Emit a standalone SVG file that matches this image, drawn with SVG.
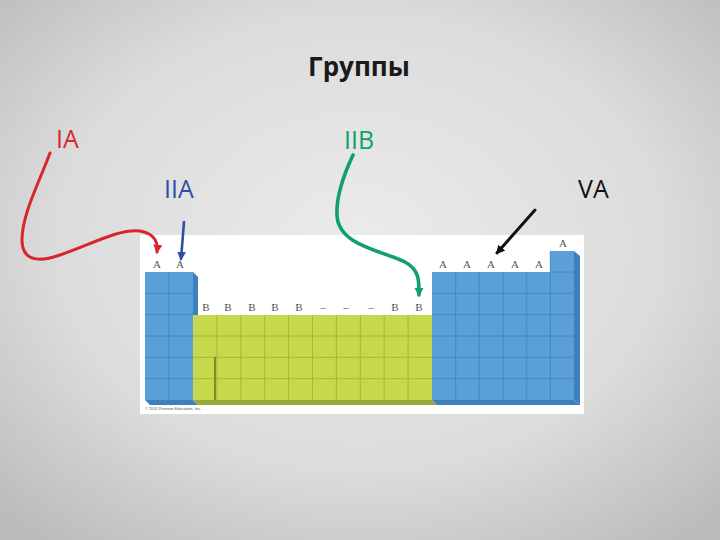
<svg xmlns="http://www.w3.org/2000/svg" width="720" height="540" viewBox="0 0 720 540">
<defs>
<radialGradient id="bg" cx="50%" cy="45%" r="70%">
<stop offset="0" stop-color="#ebebeb"/>
<stop offset="0.6" stop-color="#dcdcdc"/>
<stop offset="1" stop-color="#bcbcbc"/>
</radialGradient>
<marker id="mR" viewBox="0 0 10 10" refX="8" refY="5" markerWidth="3" markerHeight="3" orient="auto"><path d="M0,0 L10,5 L0,10 z" fill="#d7262c"/></marker>
<marker id="mB" viewBox="0 0 10 10" refX="8" refY="5" markerWidth="3.4" markerHeight="3.4" orient="auto"><path d="M0,0 L10,5 L0,10 z" fill="#2e4fa6"/></marker>
<marker id="mG" viewBox="0 0 10 10" refX="8" refY="5" markerWidth="2.6" markerHeight="2.6" orient="auto"><path d="M0,0 L10,5 L0,10 z" fill="#10a06b"/></marker>
<marker id="mK" viewBox="0 0 10 10" refX="8" refY="5" markerWidth="3" markerHeight="3" orient="auto"><path d="M0,0 L10,5 L0,10 z" fill="#111"/></marker>
</defs>
<style>
.lab{font-family:"Open Sans","Liberation Sans",sans-serif;font-size:25px}
.el{font-family:"Liberation Serif",serif;font-size:11px;fill:#555;text-anchor:middle}
.gb{stroke:#3f7fbd;stroke-width:0.8}
.gg{stroke:#9fb02c;stroke-width:0.8}
.con{fill:none;stroke-linecap:round}
</style>
<rect width="720" height="540" fill="url(#bg)"/>
<text id="title" x="359" y="76" text-anchor="middle" font-family="'Open Sans','Liberation Sans',sans-serif" font-weight="bold" font-size="26" fill="#1a1a1a">Группы</text>

<g id="table">
<rect x="140" y="235" width="444" height="179" fill="#ffffff"/>
<polygon points="193,272 198,277 198,315 193,315" fill="#3f7fbd"/>
<rect x="145" y="272" width="48" height="128" fill="#5a9fd8"/>
<g class="gb">
<line x1="169" y1="272" x2="169" y2="400"/>
<line x1="145" y1="293.3" x2="193" y2="293.3"/>
<line x1="145" y1="314.7" x2="193" y2="314.7"/>
<line x1="145" y1="336" x2="193" y2="336"/>
<line x1="145" y1="357.3" x2="193" y2="357.3"/>
<line x1="145" y1="378.7" x2="193" y2="378.7"/>
</g>
<rect x="193" y="315" width="239" height="85" fill="#c6d84c"/>
<g class="gg">
<line x1="216.9" y1="315" x2="216.9" y2="400"/>
<line x1="240.8" y1="315" x2="240.8" y2="400"/>
<line x1="264.7" y1="315" x2="264.7" y2="400"/>
<line x1="288.6" y1="315" x2="288.6" y2="400"/>
<line x1="312.5" y1="315" x2="312.5" y2="400"/>
<line x1="336.4" y1="315" x2="336.4" y2="400"/>
<line x1="360.3" y1="315" x2="360.3" y2="400"/>
<line x1="384.2" y1="315" x2="384.2" y2="400"/>
<line x1="408.1" y1="315" x2="408.1" y2="400"/>
<line x1="193" y1="336" x2="432" y2="336"/>
<line x1="193" y1="357.3" x2="432" y2="357.3"/>
<line x1="193" y1="378.7" x2="432" y2="378.7"/>
</g>
<line x1="215" y1="357" x2="215" y2="401" stroke="#6f7d1c" stroke-width="1.6"/>
<polygon points="574,251 580,256 580,405 574,400" fill="#3f7fbd"/>
<rect x="432" y="272" width="142" height="128" fill="#5a9fd8"/>
<rect x="550.3" y="251" width="23.7" height="21" fill="#5a9fd8"/>
<g class="gb">
<line x1="455.7" y1="272" x2="455.7" y2="400"/>
<line x1="479.3" y1="272" x2="479.3" y2="400"/>
<line x1="503" y1="272" x2="503" y2="400"/>
<line x1="526.7" y1="272" x2="526.7" y2="400"/>
<line x1="550.3" y1="251" x2="550.3" y2="400"/>
<line x1="432" y1="293.3" x2="574" y2="293.3"/>
<line x1="432" y1="314.7" x2="574" y2="314.7"/>
<line x1="432" y1="336" x2="574" y2="336"/>
<line x1="432" y1="357.3" x2="574" y2="357.3"/>
<line x1="432" y1="378.7" x2="574" y2="378.7"/>
<line x1="550.3" y1="272" x2="574" y2="272"/>
</g>
<polygon points="145,400 193,400 198,405 150,405" fill="#3f7fbd"/>
<polygon points="193,400 432,400 437,405 198,405" fill="#9aa83a"/>
<polygon points="432,400 574,400 580,405 437,405" fill="#3f7fbd"/>
<text class="el" x="157" y="268">A</text>
<text class="el" x="180" y="268">A</text>
<text class="el" x="206" y="311">B</text>
<text class="el" x="228" y="311">B</text>
<text class="el" x="252" y="311">B</text>
<text class="el" x="275" y="311">B</text>
<text class="el" x="299" y="311">B</text>
<text class="el" x="323" y="311">–</text>
<text class="el" x="346" y="311">–</text>
<text class="el" x="371" y="311">–</text>
<text class="el" x="395" y="311">B</text>
<text class="el" x="419" y="311">B</text>
<text class="el" x="443" y="268">A</text>
<text class="el" x="467" y="268">A</text>
<text class="el" x="491" y="268">A</text>
<text class="el" x="515" y="268">A</text>
<text class="el" x="539" y="268">A</text>
<text class="el" x="563" y="247">A</text>
<text x="145" y="410" font-family="'Liberation Sans',sans-serif" font-size="4" fill="#555">© 2011 Pearson Education, Inc.</text>
</g>

<g id="label-IA"><text class="lab" x="56" y="148" fill="#d7262c">IA</text></g>
<g id="label-IIB"><text class="lab" x="344" y="149" fill="#10a06b">IIB</text></g>
<g id="label-IIA"><text class="lab" x="164" y="198" fill="#2e4fa6">IIA</text></g>
<g id="label-VA"><text class="lab" x="578" y="198" fill="#111">VA</text></g>

<g id="connectors">
<path class="con" d="M50,153 C38,185 22,215 22,240 C22,262 40,262 60,255 C90,245 120,228 140,231 C156,234 158,243 157,252" stroke="#d7262c" stroke-width="3" marker-end="url(#mR)"/>
<path class="con" d="M184,222 L181,259" stroke="#2e4fa6" stroke-width="2.6" marker-end="url(#mB)"/>
<path class="con" d="M353,155 C345,172 336,195 337,215 C338,245 380,250 405,262 C420,270 419,282 419,295" stroke="#10a06b" stroke-width="3.6" marker-end="url(#mG)"/>
<path class="con" d="M535,210 L497,253" stroke="#111" stroke-width="3" marker-end="url(#mK)"/>
</g>
</svg>
